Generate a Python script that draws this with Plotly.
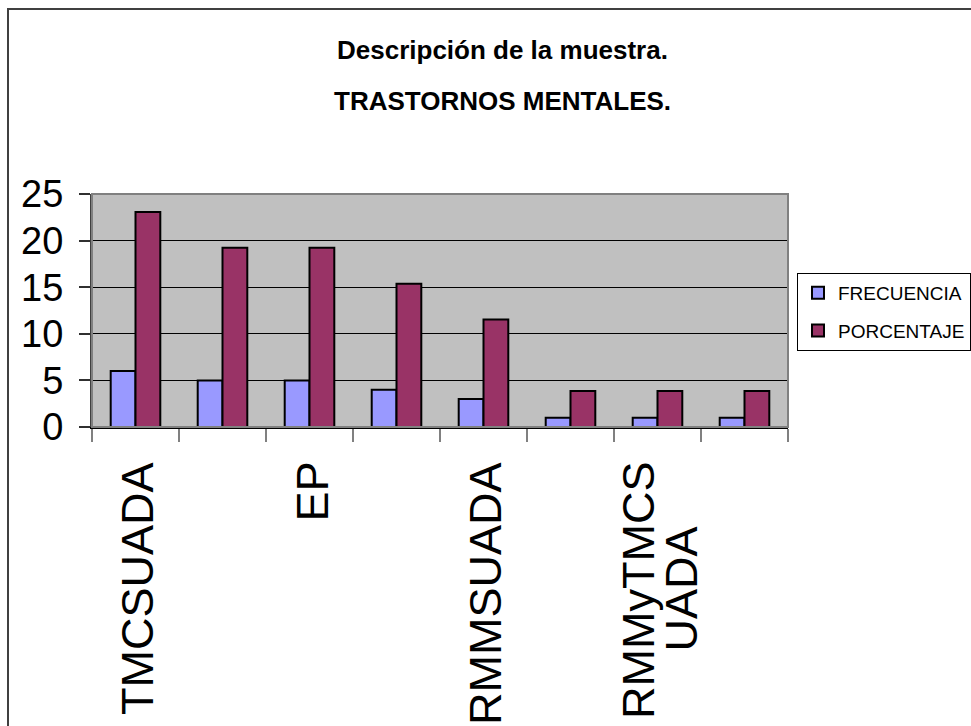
import plotly.graph_objects as go

# ---- data ----
categories = ["TMCSUADA", "Cat 2", "EP", "Cat 4", "RMMSUADA", "Cat 6", "RMMyTMCS UADA", "Cat 8"]
tick_labels = ["TMCSUADA", "", "EP", "", "RMMSUADA", "", "RMMyTMCS<br>UADA", ""]
frecuencia = [6, 5, 5, 4, 3, 1, 1, 1]
porcentaje = [23.08, 19.23, 19.23, 15.38, 11.54, 3.85, 3.85, 3.85]
series_names = ["FRECUENCIA", "PORCENTAJE"]
y_ticks = [0, 5, 10, 15, 20, 25]
title_lines = ["Descripción de la muestra.", "TRASTORNOS MENTALES."]

W, H = 971, 726
L, R, T, B = 92, 788, 194, 427  # plot area pixel box

ARIAL = "Arial, Liberation Sans, sans-serif"

x_idx = list(range(len(categories)))

fig = go.Figure()
fig.add_trace(go.Bar(x=x_idx, y=frecuencia, name=series_names[0], legendgroup="a",
                     marker=dict(color="#9999FF", line=dict(color="black", width=2))))
fig.add_trace(go.Bar(x=x_idx, y=porcentaje, name=series_names[1], legendgroup="b",
                     marker=dict(color="#993366", line=dict(color="black", width=2))))

def px_x(p):
    return (p - L) / (R - L)

def px_y(p):
    return (B - p) / (B - T)

annotations = []
# title lines
for line, yc in zip(title_lines, [50, 101]):
    annotations.append(dict(text="<b>%s</b>" % line, xref="paper", yref="paper",
                            x=px_x(502), y=px_y(yc), xanchor="center", yanchor="middle",
                            showarrow=False, font=dict(family=ARIAL, size=26, color="black")))

# category labels (rotated, reading upward)
LABEL_TOP = 460
LABEL_MID = 589
LINE_STEP = 42
for i, lab in enumerate(tick_labels):
    if not lab:
        continue
    parts = lab.split("<br>")
    n = len(parts)
    for k, part in enumerate(parts):
        shift = 2 + (k - (n - 1) / 2) * LINE_STEP
        if k == 0:
            yy, ya = px_y(LABEL_TOP), "top"
        else:
            yy, ya = px_y(LABEL_MID), "middle"
        annotations.append(dict(text=part, xref="x", yref="paper", x=i, y=yy,
                                xanchor="center", yanchor=ya, xshift=shift, textangle=-90,
                                showarrow=False,
                                font=dict(family=ARIAL, size=45, color="black")))

shapes = [
    # outer chart-area border (extends beyond the window)
    dict(type="rect", xref="paper", yref="paper", x0=px_x(8), y0=px_y(1200),
         x1=px_x(1400), y1=px_y(9), line=dict(color="#404040", width=2), layer="below"),
    # plot-area border (top / right)
    dict(type="rect", xref="paper", yref="paper", x0=0, y0=0, x1=1, y1=1,
         line=dict(color="#808080", width=2), layer="above"),
]

fig.update_layout(
    width=W, height=H,
    margin=dict(l=L, r=W - R, t=T, b=H - B, autoexpand=False),
    paper_bgcolor="white", plot_bgcolor="#C0C0C0",
    barmode="group", bargap=0.43, bargroupgap=0,
    showlegend=True,
    legend=dict(x=px_x(797), y=px_y(273), xanchor="left", yanchor="top",
                bgcolor="white", bordercolor="black", borderwidth=1,
                font=dict(family=ARIAL, size=19, color="black"),
                itemwidth=30, traceorder="grouped", tracegroupgap=10),
    annotations=annotations, shapes=shapes,
    xaxis=dict(range=[-0.5, len(categories) - 0.5], tickmode="array",
               tickvals=[i - 0.5 for i in range(len(categories) + 1)],
               ticktext=[""] * (len(categories) + 1),
               ticks="outside", ticklen=13, tickwidth=2, tickcolor="#808080",
               showgrid=False, zeroline=False, showline=True, linecolor="black",
               linewidth=2, fixedrange=True),
    yaxis=dict(range=[0, 25], tickmode="array", tickvals=y_ticks,
               ticktext=[str(v) for v in y_ticks],
               ticks="outside", ticklen=11, tickwidth=2, tickcolor="#303030",
               ticklabelstandoff=8,
               showgrid=True, gridcolor="black", gridwidth=1, zeroline=False,
               showline=True, linecolor="#404040", linewidth=2,
               tickfont=dict(family=ARIAL, size=38, color="black"), fixedrange=True),
)

fig.write_html("out.html")
